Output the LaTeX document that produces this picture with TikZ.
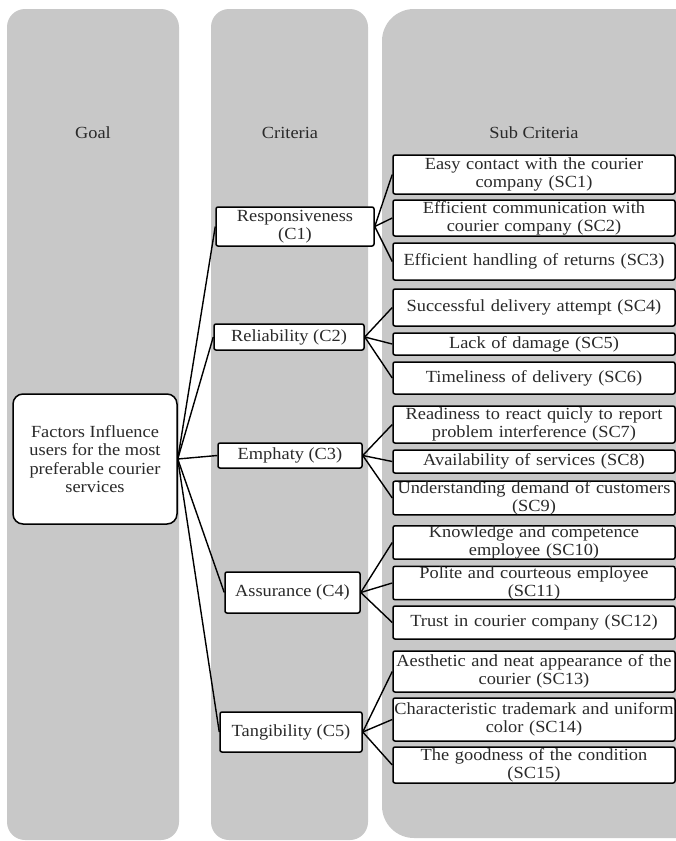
\documentclass[tikz,border=0pt]{standalone}
\usepackage{fontspec}
\setmainfont{Liberation Serif}[FakeStretch=1.08]
\usepackage{tikz}
\usetikzlibrary{positioning,calc}
\definecolor{lanegray}{HTML}{C8C8C8}
\definecolor{inkgray}{HTML}{2A2A2A}

\begin{document}
\begin{tikzpicture}[
			x=1pt,y=-1pt,
			lane/.style={fill=lanegray,draw=none},
			head/.style={font=\fontsize{17}{18}\selectfont,text=inkgray},
			goalbox/.style={draw=black,line width=1.5pt,fill=white,rounded corners=10pt,minimum width=164pt,minimum height=130pt,align=center,inner sep=0pt,text=inkgray,font=\fontsize{17}{18.5}\selectfont},
			crit/.style={draw=black,line width=1.5pt,fill=white,rounded corners=2pt,align=center,inner sep=0pt,text=inkgray,font=\fontsize{17}{18}\selectfont},
			subcrit/.style={draw=black,line width=1.5pt,fill=white,rounded corners=2pt,text width=282pt,align=center,inner sep=0pt,text=inkgray,font=\fontsize{17}{18}\selectfont},
			conn/.style={line width=1.4pt,black}
			]
			\useasboundingbox (0,0) rectangle (676,841);
			\clip (0,0) rectangle (676,841);
			% background lanes
			\fill[lane,rounded corners=18pt] (7,9) rectangle (179,840);
			\fill[lane,rounded corners=18pt] (211,9) rectangle (368,840);
			\fill[lane,rounded corners=32pt] (382,9) rectangle (720,838);
			\node[head] (goalhd) at (93,133) {Goal};
			\node[head] (crithd) at (290,133) {Criteria};
			\node[head] (subhd) at (534,133) {Sub Criteria};
			% goal
			\node[goalbox] (goal) at (95,459) {Factors Influence\\users for the most\\preferable courier\\services};
			% criteria
			\node[crit,minimum width=158pt,minimum height=39pt] (c1) at (295,226.5) {Responsiveness\\(C1)};
			\node[crit,minimum width=150pt,minimum height=26pt] (c2) at (289,337) {Reliability (C2)};
			\node[crit,minimum width=144pt,minimum height=25pt] (c3) at (290,455.5) {Emphaty (C3)};
			\node[crit,minimum width=135pt,minimum height=41pt] (c4) at (292.5,592.5) {Assurance (C4)};
			\node[crit,minimum width=142pt,minimum height=40pt] (c5) at (291,732) {Tangibility (C5)};
			% sub criteria
			\node[subcrit,minimum height=39pt] (sc1) at (534,174.5) {Easy contact with the courier\\company (SC1)};
			\node[subcrit,minimum height=36pt] (sc2) at (534,218) {Efficient communication with\\courier company (SC2)};
			\node[subcrit,minimum height=37pt] (sc3) at (534,261.5) {Efficient handling of returns (SC3)};
			\node[subcrit,minimum height=37pt] (sc4) at (534,307.5) {Successful delivery attempt (SC4)};
			\node[subcrit,minimum height=22pt] (sc5) at (534,344) {Lack of damage (SC5)};
			\node[subcrit,minimum height=32pt] (sc6) at (534,378) {Timeliness of delivery (SC6)};
			\node[subcrit,minimum height=37pt] (sc7) at (534,424.5) {Readiness to react quicly to report\\problem interference (SC7)};
			\node[subcrit,minimum height=23pt] (sc8) at (534,461.5) {Availability of services (SC8)};
			\node[subcrit,minimum height=32pt] (sc9) at (534,498) {Understanding demand of customers\\(SC9)};
			\node[subcrit,minimum height=31pt] (sc10) at (534,542.5) {Knowledge and competence\\employee (SC10)};
			\node[subcrit,minimum height=30pt] (sc11) at (534,583) {Polite and courteous employee\\(SC11)};
			\node[subcrit,minimum height=33pt] (sc12) at (534,622.5) {Trust in courier company (SC12)};
			\node[subcrit,minimum height=41pt] (sc13) at (534,671.5) {Aesthetic and neat appearance of the\\courier (SC13)};
			\node[subcrit,minimum height=43pt] (sc14) at (534,719.5) {Characteristic trademark and uniform\\color (SC14)};
			\node[subcrit,minimum height=36pt] (sc15) at (534,765) {The goodness of the condition\\(SC15)};
			% goal to criteria
			\draw[conn] (goal.east)--(c1.west);
			\draw[conn] (goal.east)--(c2.west);
			\draw[conn] (goal.east)--(c3.west);
			\draw[conn] (goal.east)--(c4.west);
			\draw[conn] (goal.east)--(c5.west);
			% criteria to sub criteria
			\draw[conn] (c1.east)--(sc1.west);
			\draw[conn] (c1.east)--(sc2.west);
			\draw[conn] (c1.east)--(sc3.west);
			\draw[conn] (c2.east)--(sc4.west);
			\draw[conn] (c2.east)--(sc5.west);
			\draw[conn] (c2.east)--(sc6.west);
			\draw[conn] (c3.east)--(sc7.west);
			\draw[conn] (c3.east)--(sc8.west);
			\draw[conn] (c3.east)--(sc9.west);
			\draw[conn] (c4.east)--(sc10.west);
			\draw[conn] (c4.east)--(sc11.west);
			\draw[conn] (c4.east)--(sc12.west);
			\draw[conn] (c5.east)--(sc13.west);
			\draw[conn] (c5.east)--(sc14.west);
			\draw[conn] (c5.east)--(sc15.west);
		\end{tikzpicture}
\end{document}
